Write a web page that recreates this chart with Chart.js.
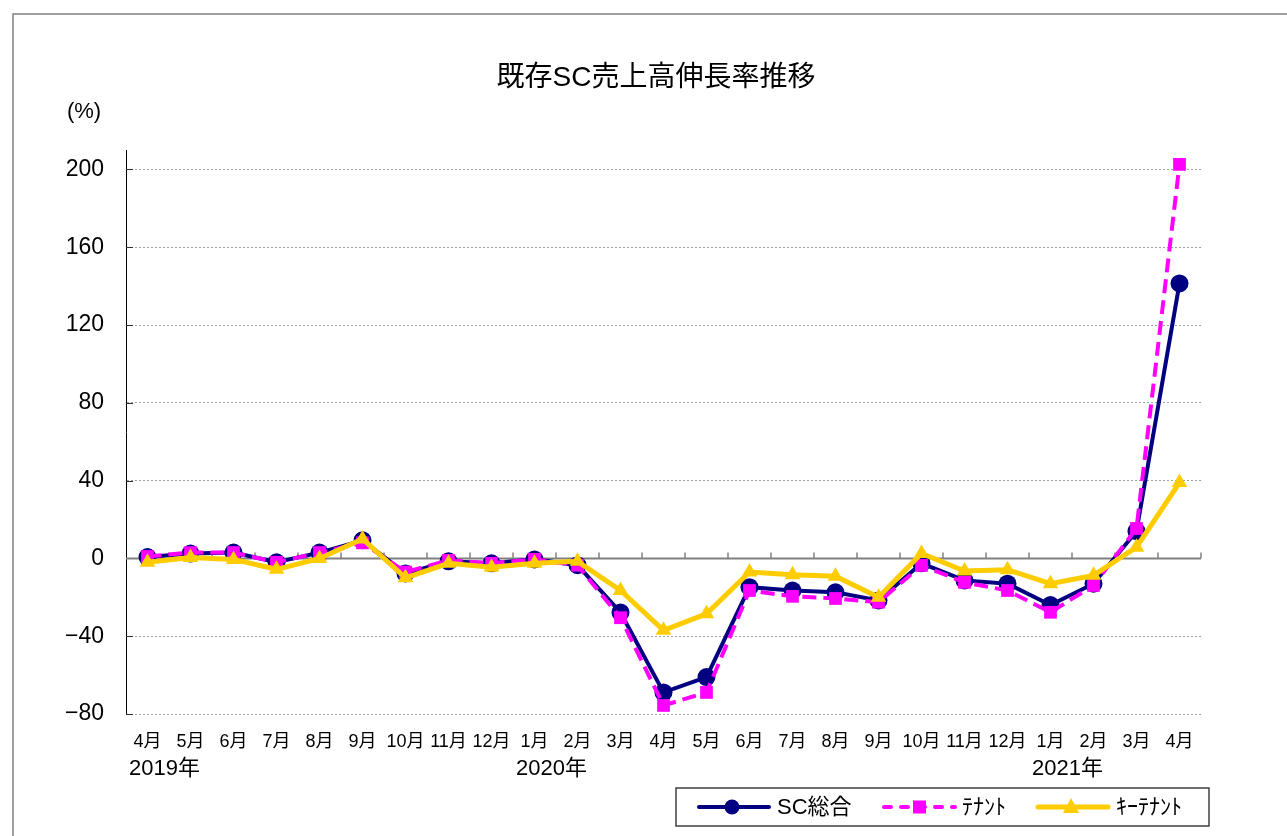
<!DOCTYPE html>
<html>
<head>
<meta charset="utf-8">
<script src="https://cdn.jsdelivr.net/npm/chart.js@4.4.1/dist/chart.umd.min.js"></script>
<style>
  body { margin: 0; background: #fff; }
  canvas { display: block; }
</style>
</head>
<body>
<canvas id="salesChart" width="1287" height="836"></canvas>
<script>
const months = ['4月', '5月', '6月', '7月', '8月', '9月', '10月', '11月', '12月', '1月', '2月', '3月',
    '4月', '5月', '6月', '7月', '8月', '9月', '10月', '11月', '12月', '1月', '2月', '3月', '4月'];
const yearRow = ['2019年', '', '', '', '', '', '', '', '', '2020年', '', '', '',
    '', '', '', '', '', '', '', '', '2021年', '', '', ''];
const yTicks = [-80, -40, 0, 40, 80, 120, 160, 200];

const scTotal = [0.7, 2.5, 3, -2, 3, 9.3, -7.7, -1.5, -2.5, -0.5, -3.5, -27.8, -68.9,
    -61, -14.8, -16.5, -17.4, -21.6, -2.5, -11.3, -13, -24, -13, 14, 141.4];
const tenant = [1, 3, 3, -2, 3, 8, -7, -1, -2.5, -0.5, -3.5, -30.5, -75.6,
    -68.9, -16.5, -19.5, -20.6, -22.5, -3.6, -12.3, -16.5, -27.7, -13.9, 15.4, 202.6];
const keyTenant = [-2, 0.5, -0.5, -5.6, 0, 10, -10, -2.5, -4.5, -2.5, -1.5, -16.5, -37,
    -28.5, -7, -8.4, -9.2, -20, 2.5, -6.5, -5.8, -13, -8.7, 5.8, 39];

const seriesNames = ['SC総合', 'ﾃﾅﾝﾄ', 'ｷｰﾃﾅﾝﾄ'];
const title = '既存SC売上高伸長率推移';
const unitLabel = '(%)';

const NAVY = '#000080';
const MAGENTA = '#ff00ff';
const GOLD = '#ffcc00';
const FONT = '"Liberation Sans", "Noto Sans CJK JP", sans-serif';

// frame, zero line, title, years and legend are drawn by hand
const decor = {
    id: 'decor',
    beforeDraw(chart) {
        const ctx = chart.ctx;
        ctx.save();
        ctx.strokeStyle = '#808080';
        ctx.lineWidth = 1.5;
        ctx.beginPath();
        ctx.moveTo(13, 836);
        ctx.lineTo(13, 14);
        ctx.lineTo(1287, 14);
        ctx.stroke();
        ctx.restore();
    },
    beforeDatasetsDraw(chart) {
        const ctx = chart.ctx;
        const x = chart.scales.x;
        const y = chart.scales.y;
        const area = chart.chartArea;
        const y0 = y.getPixelForValue(0);
        ctx.save();
        // inward ticks on value axis
        ctx.strokeStyle = '#303030';
        ctx.lineWidth = 1;
        y.ticks.forEach(t => {
            const py = Math.round(y.getPixelForValue(t.value)) + 0.5;
            ctx.beginPath();
            ctx.moveTo(area.left, py);
            ctx.lineTo(area.left + 7, py);
            ctx.stroke();
        });
        // zero line with category ticks
        ctx.strokeStyle = '#808080';
        ctx.lineWidth = 2;
        ctx.beginPath();
        ctx.moveTo(area.left, y0);
        ctx.lineTo(area.right, y0);
        ctx.stroke();
        ctx.lineWidth = 1.5;
        const half = (x.getPixelForValue(1) - x.getPixelForValue(0)) / 2;
        for (let i = 0; i < months.length; i++) {
            const px = x.getPixelForValue(i) + half;
            ctx.beginPath();
            ctx.moveTo(px, y0);
            ctx.lineTo(px, y0 - 6);
            ctx.stroke();
        }
        ctx.restore();
    },
    afterDraw(chart) {
        const ctx = chart.ctx;
        const x = chart.scales.x;
        ctx.save();
        ctx.fillStyle = '#000';
        ctx.textBaseline = 'middle';
        ctx.textAlign = 'center';
        ctx.font = '28px ' + FONT;
        ctx.fillText(title, 656, 78);
        ctx.font = '22px ' + FONT;
        ctx.fillText(unitLabel, 84, 112);

        ctx.font = '22px ' + FONT;
        yearRow.forEach((yr, i) => {
            if (yr) ctx.fillText(yr, x.getPixelForValue(i) + 17, 769);
        });

        // legend
        ctx.strokeStyle = '#404040';
        ctx.lineWidth = 1.5;
        ctx.strokeRect(676, 788, 533, 38);
        const ly = 807;
        ctx.lineCap = 'round';

        ctx.strokeStyle = NAVY;
        ctx.lineWidth = 4;
        ctx.beginPath(); ctx.moveTo(699, ly); ctx.lineTo(769, ly); ctx.stroke();
        ctx.fillStyle = NAVY;
        ctx.beginPath(); ctx.arc(732, ly, 7.5, 0, Math.PI * 2); ctx.fill();

        ctx.strokeStyle = MAGENTA;
        ctx.setLineDash([7, 10]);
        ctx.beginPath(); ctx.moveTo(884, ly); ctx.lineTo(955, ly); ctx.stroke();
        ctx.setLineDash([]);
        ctx.fillStyle = MAGENTA;
        ctx.fillRect(913, ly - 6.5, 13, 13);

        ctx.strokeStyle = GOLD;
        ctx.lineWidth = 5;
        ctx.beginPath(); ctx.moveTo(1038, ly); ctx.lineTo(1108, ly); ctx.stroke();
        ctx.fillStyle = GOLD;
        ctx.beginPath();
        ctx.moveTo(1071, ly - 9); ctx.lineTo(1079, ly + 6); ctx.lineTo(1063, ly + 6);
        ctx.closePath(); ctx.fill();

        ctx.fillStyle = '#000';
        ctx.textAlign = 'left';
        ctx.font = '22px ' + FONT;
        ctx.fillText(seriesNames[0], 777, ly + 1);
        ctx.fillText(seriesNames[1], 962, ly + 1);
        ctx.fillText(seriesNames[2], 1116, ly + 1);
        ctx.restore();
    }
};

const ctx = document.getElementById('salesChart').getContext('2d');
const salesChart = new Chart(ctx, {
    type: 'line',
    data: {
        labels: months,
        datasets: [{
            label: seriesNames[0],
            data: scTotal,
            borderColor: NAVY,
            backgroundColor: NAVY,
            borderWidth: 4,
            pointStyle: 'circle',
            pointRadius: 9,
            pointBorderWidth: 0,
            order: 3
        }, {
            label: seriesNames[1],
            data: tenant,
            borderColor: MAGENTA,
            backgroundColor: MAGENTA,
            borderWidth: 4,
            borderDash: [14, 7],
            pointStyle: 'rect',
            pointRadius: 9,
            pointBorderWidth: 0,
            order: 2
        }, {
            label: seriesNames[2],
            data: keyTenant,
            borderColor: GOLD,
            backgroundColor: GOLD,
            borderWidth: 5,
            pointStyle: 'triangle',
            pointRadius: 9,
            pointBorderWidth: 0,
            order: 1
        }]
    },
    options: {
        responsive: false,
        animation: false,
        layout: { padding: { left: 0, top: 150, right: 86, bottom: 0 } },
        elements: { line: { tension: 0 } },
        scales: {
            x: {
                offset: true,
                grid: { display: false, drawTicks: false },
                border: { display: false },
                ticks: {
                    color: '#000',
                    font: { family: FONT, size: 18 },
                    padding: 17,
                    maxRotation: 0,
                    autoSkip: false
                },
                afterFit(scale) { scale.height = 122; }
            },
            y: {
                min: -80,
                max: 210,
                grid: {
                    drawTicks: false,
                    color: ctx => (ctx.tick && ctx.tick.value === 0) ? 'rgba(0,0,0,0)' : '#a0a0a0',
                    lineWidth: 1
                },
                border: { display: true, color: '#000', width: 1, dash: [2, 2] },
                ticks: {
                    color: '#000',
                    font: { family: FONT, size: 23 },
                    padding: 22,
                    callback: v => (v < 0 ? '−' + Math.abs(v) : String(v))
                },
                afterBuildTicks(scale) {
                    scale.ticks = yTicks.map(v => ({ value: v }));
                },
                afterFit(scale) { scale.width = 126; }
            }
        },
        plugins: {
            legend: { display: false },
            title: { display: false },
            tooltip: { enabled: false }
        }
    },
    plugins: [decor]
});
</script>
</body>
</html>
